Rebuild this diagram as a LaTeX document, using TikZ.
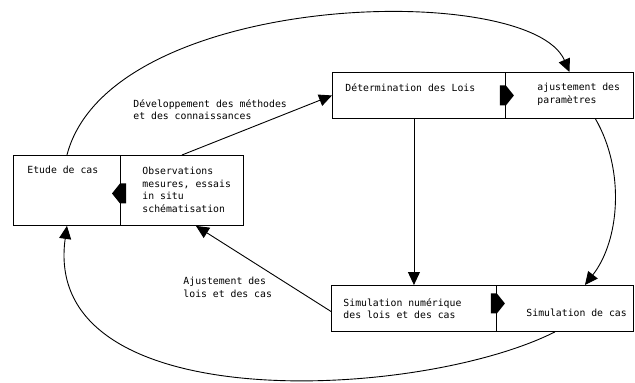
\documentclass[tikz,border=0pt]{standalone}
\usepackage{fontspec}
\setmonofont{DejaVu Sans Mono}
\usetikzlibrary{arrows.meta}

\begin{document}
\begin{tikzpicture}[x=1pt, y=-1pt, line width=0.9pt,
    cell/.style = {draw, rectangle, inner sep=0pt, anchor=north west},
    txt/.style = {inner sep=0pt, anchor=north west, align=left,
                  font=\ttfamily\fontsize{9.8}{12.5}\selectfont},
    arr/.style = {-{Triangle[length=13pt, width=12pt]}},
    blockarrow/.pic = {\fill (-6,-10) -- (0,-10) -- (8,0) -- (0,10) -- (-6,10) -- cycle;}]
  \useasboundingbox (0,0) rectangle (635,383);
  % boxes
  \node[cell, minimum width=107pt, minimum height=70pt] (etude) at (13,155) {};
  \node[cell, minimum width=123pt, minimum height=70pt] (obs) at (120,155) {};
  \node[cell, minimum width=173pt, minimum height=46pt] (lois) at (332,72) {};
  \node[cell, minimum width=128pt, minimum height=46pt] (param) at (505,72) {};
  \node[cell, minimum width=165pt, minimum height=46pt] (simnum) at (331,285) {};
  \node[cell, minimum width=137pt, minimum height=46pt] (simcas) at (496,285) {};
  % texts
  \node[txt] (etudetxt) at ([shift={(14,11)}]etude.north west) {Etude de cas};
  \node[txt] (obstxt) at ([shift={(22,12)}]obs.north west) {Observations\\mesures, essais\\in situ\\schématisation};
  \node[txt] (loistxt) at ([shift={(13,11)}]lois.north west) {Détermination des Lois};
  \node[txt] (paramtxt) at ([shift={(32,11)}]param.north west) {ajustement des\\paramètres};
  \node[txt] (simnumtxt) at ([shift={(12,13)}]simnum.north west) {Simulation numérique\\des lois et des cas};
  \node[txt] (simcastxt) at ([shift={(30,24)}]simcas.north west) {Simulation de cas};
  \node[txt] (devtxt) at (133,99) {Développement des méthodes\\et des connaissances};
  \node[txt] (ajusttxt) at (183,277) {Ajustement des\\lois et des cas};
  % arrows inside boxes
  \path (lois.east) pic {blockarrow};
  \path ([yshift=5pt]simnum.east) pic {blockarrow};
  \path ([yshift=-3pt]obs.west) pic[rotate=180] {blockarrow};
  % connectors
  \draw[arr] (obs.north) -- (lois.west);
  \draw[arr] (etude.north) .. controls (110,-10) and (530,-20) .. (param.north);
  \draw[arr] (lois.south -| simnum.north) -- (simnum.north);
  \draw[arr] ([xshift=26pt]param.south) .. controls (625,170) and (620,240) .. ([xshift=20pt]simcas.north);
  \draw[arr] ([yshift=-3pt]simnum.west) -- ([xshift=14pt]obs.south);
  \draw[arr] ([xshift=-10pt]simcas.south) .. controls (420,400) and (40,420) .. (etude.south);
\end{tikzpicture}
\end{document}
